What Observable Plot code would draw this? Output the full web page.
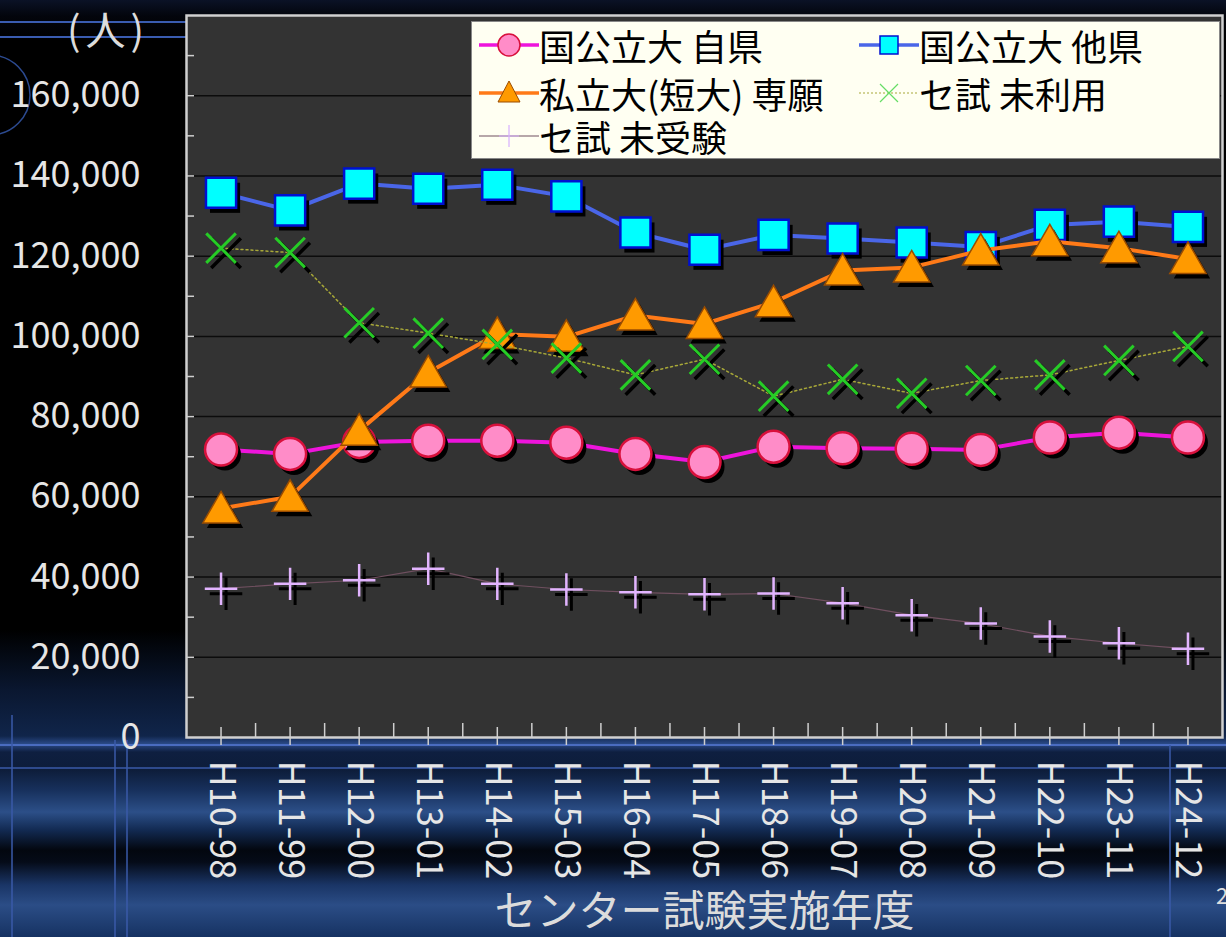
<!DOCTYPE html>
<html><head><meta charset="utf-8">
<script src="https://cdn.jsdelivr.net/npm/d3@7"></script>
<script src="https://cdn.jsdelivr.net/npm/@observablehq/plot@0.6"></script>
<style>
html,body{margin:0;padding:0;}
body{width:1226px;height:937px;overflow:hidden;position:relative;
  font-family:"Noto Sans CJK JP","Noto Sans",sans-serif;
  background:linear-gradient(to bottom,#0b1226 0px,#03050c 16px,#000 40px,#000 630px,#0a1730 690px,#10254a 736px,#2a4a88 744px,#0e1f40 752px,#0d1d3a 770px,#17305c 790px,#2c4f88 812px,#122a52 830px,#03070f 850px,#050b18 862px,#1a3566 885px,#2b4d86 905px,#163262 937px);}
#deco{position:absolute;left:0;top:0;width:1226px;height:937px;}
#chart{position:absolute;left:0;top:0;}
#unit{position:absolute;left:67px;top:-1px;font-size:40px;letter-spacing:5px;color:#dcdcdc;}
#legend{position:absolute;left:471px;top:21px;width:749px;height:138px;background:#fffff2;border:1px solid #888;box-sizing:border-box;}
.li{position:absolute;display:flex;align-items:center;font-size:36px;color:#000;white-space:nowrap;line-height:1;}
.li span{display:inline-block;height:36px;line-height:36px;overflow:visible;}
#page{position:absolute;left:1216px;top:878px;font-size:22px;color:#ddd;}
</style></head><body>
<svg id="deco" width="1226" height="937">
  <line x1="0" y1="22" x2="186" y2="22" stroke="#3a5cb0" stroke-width="2"/>
  <line x1="0" y1="37" x2="186" y2="37" stroke="#3a5cb0" stroke-width="2"/>
  <circle cx="-10" cy="95" r="40" fill="none" stroke="#2c4a90" stroke-width="1.5"/>
  <line x1="0" y1="745" x2="1226" y2="745" stroke="#4a6cc0" stroke-width="2"/>
  <line x1="0" y1="768" x2="1226" y2="768" stroke="#3a5aa8" stroke-width="1.5"/>
  <line x1="12" y1="715" x2="12" y2="937" stroke="#3a5aa8" stroke-width="1.5"/>
  <line x1="115" y1="740" x2="115" y2="937" stroke="#3a5aa8" stroke-width="1.5"/>
  <line x1="127" y1="740" x2="127" y2="937" stroke="#3a5aa8" stroke-width="1.5"/>
  <line x1="1170" y1="745" x2="1170" y2="937" stroke="#3a5aa8" stroke-width="1.5"/>
</svg>
<div id="chart"></div>
<div id="unit">(人)</div>
<div id="legend"></div>
<div id="page">2</div>
<script>
const categories = ["H10-98","H11-99","H12-00","H13-01","H14-02","H15-03","H16-04","H17-05","H18-06","H19-07","H20-08","H21-09","H22-10","H23-11","H24-12"];
const seriesNames = ["国公立大 自県","国公立大 他県","私立大(短大) 専願","セ試 未利用","セ試 未受験"];
const kokuJiken = [71800,70700,73700,74000,74000,73500,70700,68700,72500,72100,72000,71700,74800,76000,74800];
const kokuTaken = [135800,131400,138100,136800,137800,134900,125900,121600,125300,124400,123400,122300,127800,128600,127300];
const shiritsu  = [57100,60000,76500,91000,100600,99900,105200,103100,108500,116400,117200,121400,123700,122000,119300];
const miriyo    = [122000,120900,103400,100800,98000,94600,90400,94300,85100,89300,85800,89000,90400,94000,97500];
const mijuken   = [37100,38300,39200,42100,38300,36900,36200,35700,35900,33500,30500,28400,25200,23500,22100];
const yTicks = [0,20000,40000,60000,80000,100000,120000,140000,160000];
const xTitle = "センター試験実施年度";

const styles = [
  {values:kokuJiken, line:"#ee14dc", lw:4, dash:null, symbol:"circle", r:16, fill:"#ff8cc8", stroke:"#d8103c", sw:2.5, dy:0},
  {values:kokuTaken, line:"#4a66e8", lw:4, dash:null, symbol:"square", r:17, fill:"#00ffff", stroke:"#0010d0", sw:2.5, dy:0},
  {values:shiritsu,  line:"#ff7a18", lw:4, dash:null, symbol:"triangle", r:13.5, fill:"#ff9a00", stroke:"#9a4c00", sw:1.5, dy:4},
  {values:miriyo,    line:"#a8a838", lw:1.5, dash:"2,3", symbol:"times", r:13.5, fill:"none", stroke:"#26cc26", sw:3, dy:0},
  {values:mijuken,   line:"#705060", lw:1.2, dash:null, symbol:"plus", r:10.5, fill:"none", stroke:"#e2b4ff", sw:2.5, dy:0}
];

const idx = (d,i)=>i;
const seriesMarks = styles.flatMap(s => {
  const open = s.fill === "none";
  return [
    Plot.line(s.values, {x: idx, y: d=>d, stroke: s.line, strokeWidth: s.lw, strokeDasharray: s.dash}),
    Plot.dot(s.values, open
      ? {x: idx, y: d=>d, symbol: s.symbol, r: s.r, stroke: "#000", strokeWidth: s.sw+0.5, dx: 5, dy: 5 + s.dy}
      : {x: idx, y: d=>d, symbol: s.symbol, r: s.r, fill: "#000", stroke: "none", dx: 4, dy: 5 + s.dy}),
    Plot.dot(s.values, open
      ? {x: idx, y: d=>d, symbol: s.symbol, r: s.r, stroke: s.stroke, strokeWidth: s.sw, dy: s.dy}
      : {x: idx, y: d=>d, symbol: s.symbol, r: s.r, fill: s.fill, fillOpacity: 1, stroke: s.stroke, strokeWidth: s.sw, dy: s.dy})
  ];
});

const chart = Plot.plot({
  width: 1226, height: 937,
  marginLeft: 186, marginRight: 4, marginTop: 15, marginBottom: 200,
  style: {background: "transparent", fontFamily: '"Noto Sans CJK JP","Noto Sans",sans-serif', overflow: "visible"},
  x: {type: "linear", domain: [-0.5, categories.length - 0.5]},
  y: {domain: [0, 180000]},
  marks: [
    Plot.frame({fill: "#333333", stroke: "none"}),
    Plot.gridY({ticks: yTicks.slice(1), stroke: "#0c0c0c", strokeOpacity: 1, strokeWidth: 1.5}),
    Plot.axisY({ticks: d3.range(10000, 180000, 10000), tickSize: -8, tickFormat: () => "", stroke: "#cfcfcf", strokeWidth: 1.5, label: null}),
    Plot.axisX({ticks: d3.range(0.5, categories.length - 1, 1), tickSize: -14, tickFormat: () => "", stroke: "#cfcfcf", strokeWidth: 1.5, label: null}),
    Plot.axisX({ticks: d3.range(categories.length), tickSize: -10, tickFormat: () => "", stroke: "#cfcfcf", strokeWidth: 1.5, label: null}),
    Plot.frame({stroke: "#d0d0d0", strokeWidth: 2.5}),
    ...seriesMarks,
    Plot.axisY({ticks: yTicks, tickSize: 0, tickPadding: 46, tickFormat: d3.format(","), fontSize: 36, fill: "#e6e6e6", label: null}),
    Plot.axisX({ticks: d3.range(categories.length), tickFormat: i => categories[i], tickRotate: 90, tickSize: 8, tickPadding: 15, fontSize: 36, fill: "#e6e6e6", stroke: "#cfcfcf", strokeWidth: 1.5, label: null}),
    Plot.text([xTitle], {frameAnchor: "bottom", dy: 188, fontSize: 42, fill: "#dcdcdc", text: d => d})
  ]
});
document.getElementById("chart").appendChild(chart);

// legend
const legend = document.getElementById("legend");
const pos = [[5,5],[385,5],[5,53],[385,53],[5,96]];
const sym = {
  circle: (s)=>`<circle cx="32" cy="18" r="11" fill="${s.fill}" stroke="${s.stroke}" stroke-width="1.5"/>`,
  square: (s)=>`<rect x="23" y="9" width="18" height="18" fill="${s.fill}" stroke="${s.stroke}" stroke-width="1.5"/>`,
  triangle: (s)=>`<path d="M32,6 L43,27 L21,27 Z" fill="${s.fill}" stroke="${s.stroke}" stroke-width="1"/>`,
  times: (s)=>`<path d="M23,9 L41,27 M41,9 L23,27" stroke="#66dd66" stroke-width="1.2"/>`,
  plus: (s)=>`<path d="M32,7 L32,29 M22,18 L42,18" stroke="#d8b0ff" stroke-width="1.2"/>`
};
styles.forEach((s,k)=>{
  const d = document.createElement("div");
  d.className = "li";
  d.style.left = pos[k][0] + "px";
  d.style.top = pos[k][1] + "px";
  const lw = s.lw > 2 ? 3.5 : 1.2;
  d.innerHTML = `<svg width="62" height="36"><line x1="2" y1="18" x2="62" y2="18" stroke="${s.line}" stroke-width="${lw}" ${s.dash ? 'stroke-dasharray="2,2"' : ''}/>${sym[s.symbol](s)}</svg><span>${seriesNames[k]}</span>`;
  legend.appendChild(d);
});
</script>
</body></html>
